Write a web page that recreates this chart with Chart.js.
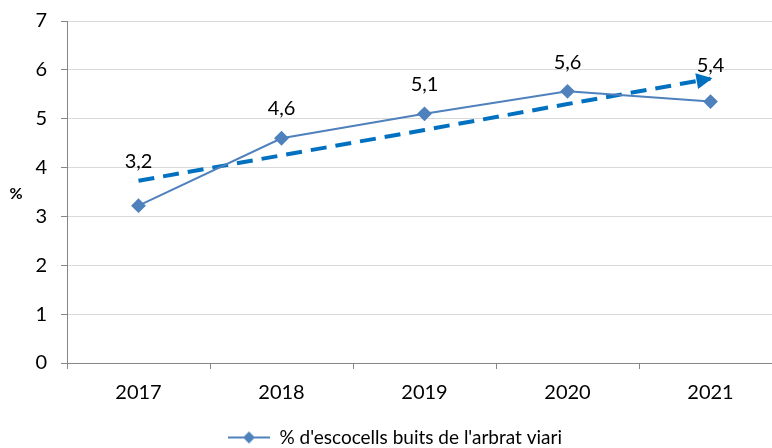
<!DOCTYPE html>
<html>
<head>
<meta charset="utf-8">
<script src="https://cdn.jsdelivr.net/npm/chart.js@4"></script>
<style>
  html, body { margin: 0; padding: 0; background: #fff; overflow: hidden; }
  #wrap { width: 790px; height: 448px; }
</style>
</head>
<body>
<div id="wrap"><canvas id="myChart" width="790" height="448"></canvas></div>
<script>
var years = ["2017", "2018", "2019", "2020", "2021"];
var buits = [3.22, 4.6, 5.1, 5.56, 5.35];
var buitsLabels = ["3,2", "4,6", "5,1", "5,6", "5,4"];
var tendencia = [3.73, 4.25, 4.77, 5.3, 5.82];
var serieName = "% d'escocells buits de l'arbrat viari";

var FONT = "Lato, 'Open Sans', sans-serif";
var BLUE = "#4F81BD";
var TREND = "#0070C0";

// legend icon: short line with a diamond in the middle
function legendIcon() {
  let c = document.createElement("canvas");
  c.width = 42; c.height = 14;
  let g = c.getContext("2d");
  g.strokeStyle = BLUE; g.lineWidth = 2;
  g.beginPath(); g.moveTo(0, 7); g.lineTo(42, 7); g.stroke();
  g.fillStyle = BLUE;
  g.beginPath(); g.moveTo(21, 1); g.lineTo(27, 7); g.lineTo(21, 13); g.lineTo(15, 7); g.closePath(); g.fill();
  return c;
}

// arrow head on the end of the trend line, value labels, horizontal "%" title
var extras = {
  id: "extras",
  afterDraw(chart) {
    let ctx = chart.ctx;
    let tm = chart.getDatasetMeta(1).data;
    let a = tm[tm.length - 2], b = tm[tm.length - 1];
    let ang = Math.atan2(b.y - a.y, b.x - a.x);
    ctx.save();
    ctx.translate(b.x, b.y);
    ctx.rotate(ang);
    ctx.fillStyle = TREND;
    ctx.beginPath();
    ctx.moveTo(2, 0); ctx.lineTo(-14, -8); ctx.lineTo(-14, 8); ctx.closePath();
    ctx.fill();
    ctx.restore();

    let pm = chart.getDatasetMeta(0).data;
    let lift = [44, 30, 29, 29, 36];
    ctx.save();
    ctx.font = "20px " + FONT;
    ctx.fillStyle = "#000";
    ctx.textAlign = "center";
    ctx.textBaseline = "middle";
    pm.forEach((p, i) => {
      ctx.fillText(buitsLabels[i], p.x, p.y - lift[i]);
    });
    let ya = chart.scales.y;
    ctx.font = "bold 16px " + FONT;
    ctx.fillText("%", 16, (ya.top + ya.bottom) / 2 + 2);
    ctx.restore();
  }
};

var ctx = document.getElementById("myChart").getContext("2d");
var myChart = new Chart(ctx, {
  type: "line",
  data: {
    labels: years,
    datasets: [
      {
        label: serieName,
        data: buits,
        borderColor: BLUE,
        backgroundColor: BLUE,
        borderWidth: 2,
        pointStyle: "rectRot",
        pointRadius: 6,
        pointHoverRadius: 6,
        tension: 0,
      },
      {
        label: "tendencia",
        data: tendencia,
        borderColor: TREND,
        borderWidth: 4,
        borderDash: [16, 9],
        pointRadius: 0,
        tension: 0,
      },
    ],
  },
  options: {
    responsive: false,
    animation: false,
    layout: { padding: { left: 0, top: 21, right: 0, bottom: -9 } },
    plugins: {
      tooltip: { enabled: false },
      legend: {
        position: "bottom",
        labels: {
          usePointStyle: true,
          pointStyle: legendIcon(),
          pointStyleWidth: 42,
          font: { family: FONT, size: 19 },
          color: "#000",
          padding: 2,
          filter: (item) => item.datasetIndex == 0,
        },
      },
    },
    scales: {
      x: {
        offset: true,
        afterFit: (s) => { s.height = 63; },
        grid: { offset: true, drawOnChartArea: false, drawTicks: true, tickLength: 6, color: "#868686" },
        border: { color: "#868686" },
        ticks: { font: { family: FONT, size: 20 }, color: "#000", padding: 12 },
      },
      y: {
        min: 0,
        max: 7,
        afterFit: (s) => { s.width = 67; s.paddingTop = 0; s.paddingBottom = 0; },
        ticks: { stepSize: 1, font: { family: FONT, size: 20 }, color: "#000", padding: 14 },
        grid: { color: "#d9d9d9", tickLength: 6, tickColor: "#868686" },
        border: { color: "#868686" },
      },
    },
  },
  plugins: [extras],
});
</script>
</body>
</html>
